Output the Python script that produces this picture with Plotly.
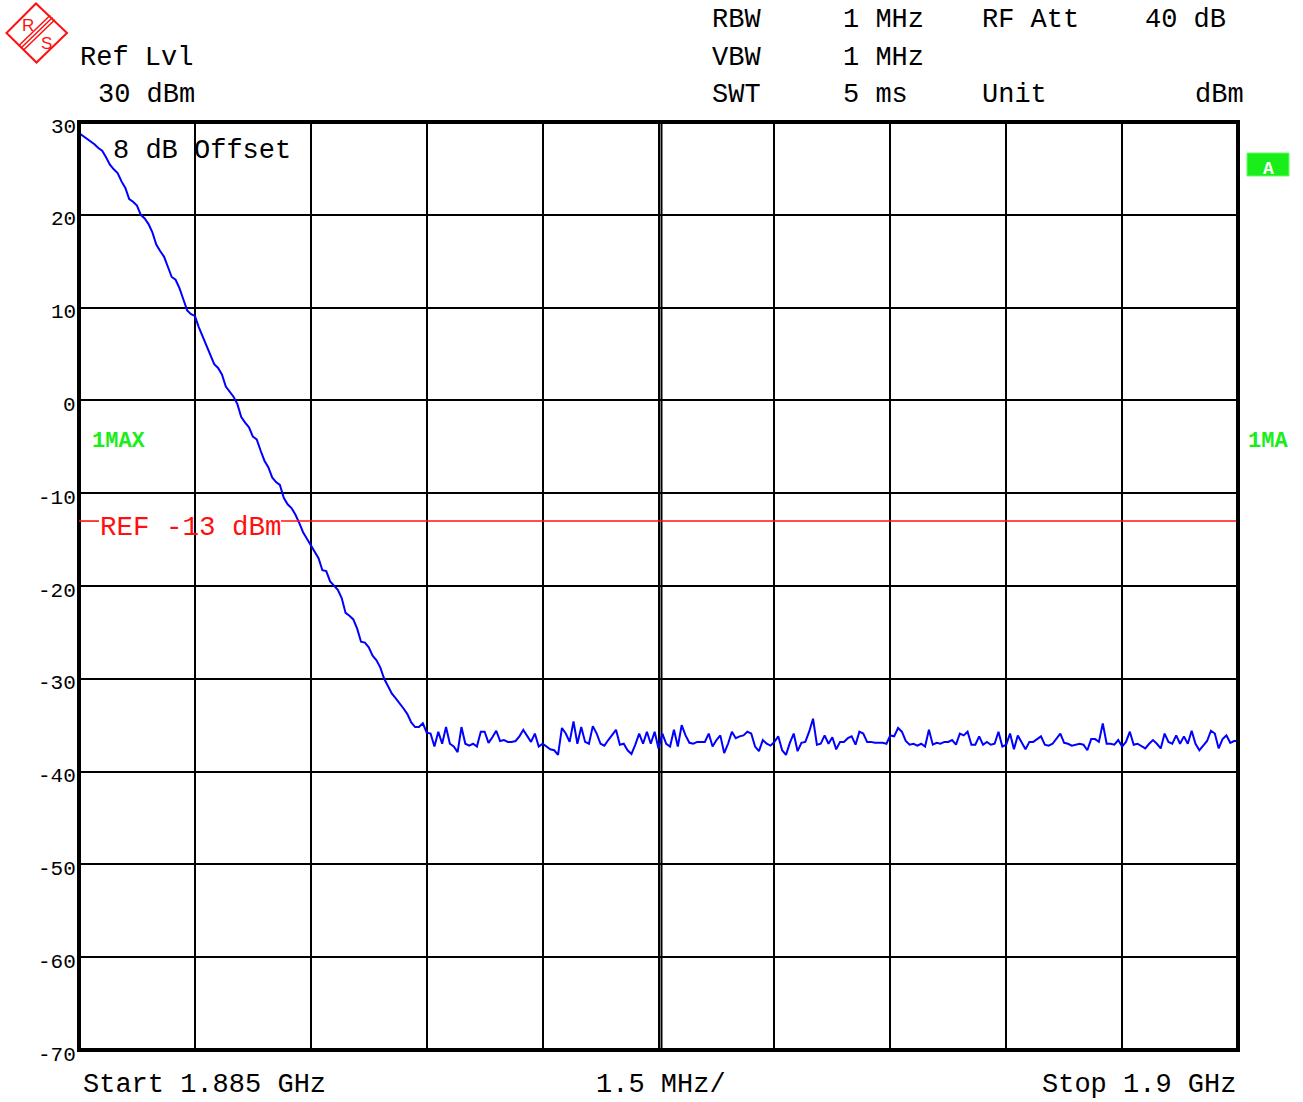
import numpy as np
import plotly.graph_objects as go

# ---------------- data ----------------
START_GHZ = 1.885
STOP_GHZ = 1.9
DIV_MHZ = 1.5
REF_LINE_DBM = -13
Y_TICKS = [30, 20, 10, 0, -10, -20, -30, -40, -50, -60, -70]

# falling skirt (first 91 sweep points)
LEVEL_SKIRT = [
    28.8, 28.5, 28.1, 27.9, 27.6, 27.2, 26.9, 26.2, 25.4, 24.9,
    24.5, 23.6, 22.9, 21.7, 21.4, 21.0, 20.0, 19.6, 19.0, 18.1,
    16.8, 16.1, 15.5, 14.4, 13.3, 13.0, 12.1, 10.9, 9.7, 9.3,
    9.1, 7.9, 6.9, 6.0, 5.1, 3.9, 3.5, 2.8, 1.5, 0.9,
    0.4, -0.4, -1.8, -2.4, -2.9, -3.9, -4.2, -5.4, -6.5, -7.2,
    -8.3, -8.8, -9.1, -10.5, -11.2, -11.6, -12.3, -13.2, -14.2, -14.9,
    -15.6, -16.3, -17.0, -18.3, -18.4, -19.5, -19.9, -20.4, -21.3, -22.9,
    -23.2, -23.6, -24.6, -26.0, -26.1, -26.6, -27.5, -28.0, -28.8, -30.0,
    -30.8, -31.6, -32.1, -32.6, -33.2, -33.8, -34.7, -35.2, -35.2, -34.8,
    -35.8,
]

# noise floor, part 1
LEVEL_FLOOR_A = [
    -35.9, -37.3, -35.7, -37.0, -35.2, -37.0, -37.3, -37.9, -35.2,
    -37.0, -37.2, -37.0, -37.3, -35.7, -35.7, -36.9, -36.3, -35.6, -36.7,
    -36.6, -36.8, -36.8, -36.7, -36.2, -35.5, -36.1, -36.8, -35.9, -37.3,
    -37.0, -37.3, -37.6, -37.7, -38.2, -35.3, -35.9, -36.8, -34.6, -37.0,
    -35.2, -36.8, -37.0, -35.1, -35.9, -37.0, -37.2, -36.6, -36.1, -35.5,
    -37.1, -37.0, -37.7, -38.1, -37.1, -35.9, -37.0, -35.7, -37.0, -35.7,
    -37.5, -35.9, -37.0, -37.3, -35.5, -37.3, -35.0, -36.1, -36.9, -37.0,
    -36.8,
]

# noise floor, part 2
LEVEL_FLOOR_B = [
    -36.8, -36.8, -35.9, -37.3, -36.6, -36.1, -38.0, -37.0, -35.7,
    -36.4, -36.2, -36.1, -35.7, -35.9, -37.3, -37.8, -36.6, -37.0, -37.2,
    -36.8, -36.2, -37.7, -38.2, -36.9, -35.9, -37.8, -36.9, -36.8, -35.7,
    -34.3, -37.1, -37.0, -36.1, -37.0, -36.3, -37.6, -36.8, -36.8, -36.4,
    -36.2, -37.1, -35.7, -35.9, -36.8, -36.8, -36.9, -36.9, -36.9, -37.0,
    -36.1, -36.2, -35.3, -35.7, -36.7, -37.1, -37.0, -37.2, -37.0, -37.3,
    -35.5, -37.1, -36.9, -37.0, -36.8, -36.8, -36.6, -37.1, -35.9, -36.1,
    -35.7, -37.1, -37.1, -36.2, -37.1, -36.8,
]

# noise floor, part 3
LEVEL_FLOOR_C = [
    -37.1, -37.0, -35.7, -37.3,
    -37.1, -35.9, -37.6, -36.1, -36.9, -37.6, -36.8, -36.8, -36.5, -36.2,
    -37.1, -37.2, -37.0, -36.5, -35.9, -36.9, -37.0, -37.2, -37.1, -37.0,
    -37.1, -37.7, -36.5, -36.5, -36.8, -34.8, -37.0, -37.0, -37.1, -36.6,
    -37.3, -36.8, -35.7, -37.1, -37.0, -37.3, -37.5, -37.0, -36.6, -37.0,
    -37.5, -35.9, -36.8, -37.0, -36.1, -37.0, -36.2, -37.0, -35.6, -37.0,
    -37.7, -37.2, -36.7, -35.6, -35.9, -37.5, -36.5, -36.1, -36.9, -36.7,
    -36.7,
]

level = LEVEL_SKIRT + LEVEL_FLOOR_A + LEVEL_FLOOR_B + LEVEL_FLOOR_C
freq = np.linspace(START_GHZ, STOP_GHZ, len(level))

# ---------------- layout helpers ----------------
W, H = 1303, 1102
L, R, T, B = 79, 1238, 122, 1050
MONO = "Liberation Mono, DejaVu Sans Mono, monospace"
GREEN = "#1aee1a"
RED = "#ff1010"


def px(x):
    return (x - L) / (R - L)


def py(y):
    return (B - y) / (B - T)


annotations = []


def txt(x, y, s, size=27, color="black", xanchor="left", family=MONO):
    annotations.append(dict(
        xref="paper", yref="paper", x=px(x), y=py(y), text=s,
        showarrow=False, xanchor=xanchor, yanchor="middle",
        font=dict(family=family, size=size, color=color),
        borderpad=0,
    ))


fig = go.Figure()
fig.add_trace(go.Scatter(
    x=freq, y=level, mode="lines",
    line=dict(color="#0000ff", width=2), hoverinfo="skip",
))

# header
txt(79, 58, "Ref Lvl")
txt(97, 95, "30 dBm")
txt(711, 20, "RBW")
txt(711, 58, "VBW")
txt(711, 95, "SWT")
txt(842, 20, "1 MHz")
txt(842, 58, "1 MHz")
txt(842, 95, "5 ms")
txt(981, 20, "RF Att")
txt(981, 95, "Unit")
txt(1144, 20, "40 dB")
txt(1245, 95, "dBm", xanchor="right")

# footer
txt(82, 1085, "Start 1.885 GHz")
txt(661, 1085, "1.5 MHz/", xanchor="center")
txt(1237, 1085, "Stop 1.9 GHz", xanchor="right")

# y labels
for v in Y_TICKS:
    ypix = T + (30 - v) * (B - T) / 100.0
    txt(77, ypix + 5, str(v), size=21, xanchor="right")

# in-plot texts
txt(112, 151, "8 dB Offset")
txt(99, 527, "REF -13 dBm", color=RED, size=27.5)
txt(91, 441, "<b>1MAX</b>", size=22, color=GREEN)
txt(1247, 441, "<b>1MA</b>", size=22, color=GREEN)

# logo letters
txt(28, 25, "R", size=17, color=RED, xanchor="center",
    family="Liberation Sans, Arial, sans-serif")
txt(46, 44, "S", size=17, color=RED, xanchor="center",
    family="Liberation Sans, Arial, sans-serif")
# green A box label
txt(1268, 169, "<b>A</b>", size=18, color="white", xanchor="center")

shapes = []
# frame
shapes.append(dict(type="rect", xref="paper", yref="paper", x0=0, x1=1, y0=0, y1=1,
                   line=dict(color="black", width=4), layer="above"))
# doubled center gridline
shapes.append(dict(type="line", xref="paper", yref="paper", x0=px(661.5), x1=px(661.5),
                   y0=0, y1=1, line=dict(color="black", width=2), layer="below"))
# reference line (broken by its label)
shapes.append(dict(type="line", xref="paper", yref="y", x0=0, x1=px(99),
                   y0=REF_LINE_DBM, y1=REF_LINE_DBM, line=dict(color=RED, width=1.6)))
shapes.append(dict(type="line", xref="paper", yref="y", x0=px(281), x1=px(1236),
                   y0=REF_LINE_DBM, y1=REF_LINE_DBM, line=dict(color=RED, width=1.6)))


# logo diamond
def P(x, y):
    return f"{px(x)},{py(y)}"


shapes.append(dict(type="path", xref="paper", yref="paper",
                   path=f"M{P(36, 3.5)} L{P(67, 33)} L{P(36.5, 62.5)} L{P(6.5, 33)} Z",
                   line=dict(color=RED, width=2), fillcolor="rgba(0,0,0,0)"))
for d in (-2.3, 0, 2.3):
    shapes.append(dict(type="line", xref="paper", yref="paper",
                       x0=px(52.5 + d), y0=py(17.5 + d), x1=px(21 + d), y1=py(48 + d),
                       line=dict(color=RED, width=1.5)))

# green "A" box
shapes.append(dict(type="rect", xref="paper", yref="paper",
                   x0=px(1247), x1=px(1289), y0=py(176), y1=py(153),
                   fillcolor=GREEN, line=dict(color="#66ff66", width=1)))

fig.update_layout(
    width=W, height=H,
    margin=dict(l=L, r=W - R, t=T, b=H - B, pad=0),
    paper_bgcolor="white", plot_bgcolor="white",
    showlegend=False,
    annotations=annotations,
    shapes=shapes,
    xaxis=dict(range=[START_GHZ, STOP_GHZ], tick0=START_GHZ, dtick=DIV_MHZ / 1000.0,
               showticklabels=False, ticks="", showgrid=True, gridcolor="black",
               gridwidth=2, zeroline=False, showline=False, fixedrange=True),
    yaxis=dict(range=[-70, 30], tick0=-70, dtick=10, showticklabels=False, ticks="",
               showgrid=True, gridcolor="black", gridwidth=2, zeroline=False,
               showline=False, fixedrange=True),
)

fig.write_html("out.html")
